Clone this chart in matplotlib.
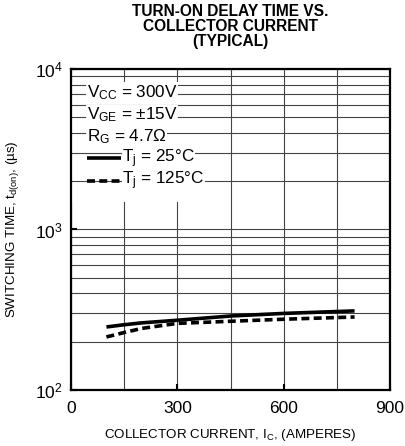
import matplotlib
matplotlib.use('Agg')
import matplotlib.pyplot as plt
from matplotlib.patches import Rectangle
from matplotlib.ticker import FixedLocator, LogLocator, NullFormatter

plt.rcParams['font.family'] = ['Liberation Sans', 'DejaVu Sans']

# collector current (A)
ic = [100, 150, 200, 300, 450, 600, 800]
# Tj = 25C
td_25 = [247, 255, 262, 272, 289, 300, 311]
# Tj = 125C
td_125 = [214, 228, 242, 260, 268, 276, 285]

x_ticks = [0, 300, 600, 900]
x_grid = [150, 450, 750]
legend_lines = ['$\\mathregular{V_{CC}}$ = 300V',
                '$\\mathregular{V_{GE}}$ = \u00b115V',
                '$\\mathregular{R_G}$ = 4.7\u03a9']
series_labels = ['$\\mathregular{T_j}$ = 25\u00b0C', '$\\mathregular{T_j}$ = 125\u00b0C']

fig = plt.figure(figsize=(4.05, 4.46), dpi=100)
ax = fig.add_axes([0.1753, 0.1256, 0.7877, 0.7197])

ax.plot(ic, td_25, color='black', lw=2.6, solid_capstyle='butt', zorder=4)
ax.plot(ic, td_125, color='black', lw=2.6, dashes=(2.2, 1.2), zorder=4)

ax.set_yscale('log')
ax.set_xlim(0, 900)
ax.set_ylim(100, 10000)
ax.xaxis.set_major_locator(FixedLocator(x_ticks))
ax.xaxis.set_minor_locator(FixedLocator(x_grid))
ax.yaxis.set_minor_locator(LogLocator(base=10, subs=range(2, 10)))
ax.yaxis.set_minor_formatter(NullFormatter())
ax.tick_params(which='major', direction='in', length=4, width=1.5, labelsize=12.5, pad=8)
ax.tick_params(axis='y', which='major', pad=6)
ax.tick_params(which='minor', length=0)
ax.grid(which='both', color='#444444', lw=0.8)
for s in ax.spines.values():
    s.set_linewidth(1.6)

# vertical grid sits under the white legend box, horizontal grid over it
ax.xaxis.set_zorder(0.5)
ax.yaxis.set_zorder(1.8)
ax.add_patch(Rectangle((0.0, 0.585), 0.43, 0.375, transform=ax.transAxes,
                       facecolor='white', edgecolor='none', zorder=1.5))

ys = [0.926, 0.858, 0.790]
for y, t in zip(ys, legend_lines):
    ax.text(0.049, y, t, transform=ax.transAxes, fontsize=12.3, va='center', ha='left',
            zorder=3, bbox=dict(facecolor='white', edgecolor='none', pad=0.4))

sy = [0.722, 0.652]
styles = [dict(), dict(dashes=(2.2, 1.2))]
for y, t, st in zip(sy, series_labels, styles):
    ax.plot([0.049, 0.158], [y, y], transform=ax.transAxes, color='black', lw=2.6,
            zorder=3, solid_capstyle='butt', **st)
    ax.text(0.16, y, t, transform=ax.transAxes, fontsize=12.3, va='center', ha='left',
            zorder=3, bbox=dict(facecolor='white', edgecolor='none', pad=0.4))

ax.set_xlabel('COLLECTOR CURRENT, $\\mathregular{I_C}$, (AMPERES)', fontsize=9.6, labelpad=8)
ax.set_ylabel('SWITCHING TIME, $\\mathregular{t_{d(on)}}$, (\u00b5s)', fontsize=9.6, labelpad=10)

fig.text(0.568, 0.99, 'TURN-ON DELAY TIME VS.\nCOLLECTOR CURRENT\n(TYPICAL)',
         ha='center', va='top', fontsize=11.2, fontweight='bold', linespacing=1.0)

fig.savefig('out.png', dpi=100)
